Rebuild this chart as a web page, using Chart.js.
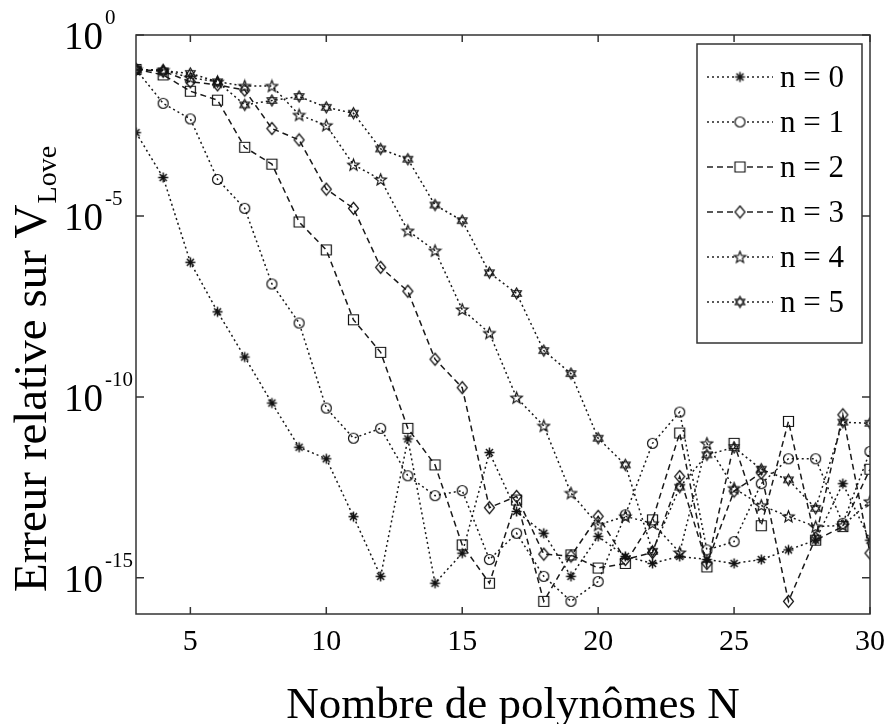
<!DOCTYPE html>
<html lang="fr">
<head>
<meta charset="UTF-8" />
<title>Erreur relative sur V_Love</title>
<script src="https://cdn.jsdelivr.net/npm/chart.js"></script>
<style>
  body { margin: 0; background: #fff; }
  #cadre { width: 887px; height: 724px; }
</style>
</head>
<body>
<div id="cadre"><canvas id="graphe" width="887" height="724"></canvas></div>
<script>
  // Nombre de polynômes N
  const nombrePolynomes = [3, 4, 5, 6, 7, 8, 9, 10, 11, 12, 13, 14, 15, 16, 17, 18, 19, 20, 21, 22, 23, 24, 25, 26, 27, 28, 29, 30];

  // erreur relative
  const erreurN0 = [2.0e-3, 1.15e-4, 5.25e-7, 2.24e-8, 1.26e-9, 6.76e-11, 4.07e-12, 1.95e-12, 4.9e-14, 1.1e-15,
    6.9e-12, 7.1e-16, 4.8e-15, 2.9e-12, 6.8e-14, 1.7e-14, 1.1e-15, 1.4e-14, 3.9e-15, 2.5e-15,
    3.9e-15, 3.2e-15, 2.5e-15, 3.2e-15, 5.9e-15, 1.1e-14, 4.0e-13, 1.1e-14];
  const erreurN1 = [1.12e-1, 1.29e-2, 4.8e-3, 1.02e-4, 1.62e-5, 1.32e-7, 1.1e-8, 4.9e-11, 7.2e-12, 1.35e-11,
    6.6e-13, 1.86e-13, 2.57e-13, 3.2e-15, 1.7e-14, 1.1e-15, 2.24e-16, 7.9e-16, 5.5e-14, 5.2e-12,
    3.8e-11, 5.9e-15, 1.0e-14, 4.0e-13, 1.95e-12, 1.95e-12, 3.2e-14, 3.1e-12];
  const erreurN2 = [1.12e-1, 7.9e-2, 2.8e-2, 1.58e-2, 7.9e-4, 2.7e-4, 6.8e-6, 1.15e-6, 1.35e-8, 1.7e-9,
    1.35e-11, 1.32e-12, 8.1e-15, 7.1e-16, 1.41e-13, 2.24e-16, 4.3e-15, 1.86e-15, 2.5e-15, 4.0e-14,
    1.0e-11, 2.0e-15, 5.2e-12, 2.75e-14, 2.1e-11, 1.1e-14, 2.6e-14, 1.0e-12];
  const erreurN3 = [1.12e-1, 1.0e-1, 5.1e-2, 4.2e-2, 3.0e-2, 2.6e-3, 1.26e-3, 5.5e-5, 1.62e-5, 3.8e-7,
    8.3e-8, 1.1e-9, 1.8e-10, 8.7e-14, 1.78e-13, 4.5e-15, 4.0e-15, 5.0e-14, 3.2e-15, 5.0e-15,
    6.3e-13, 2.5e-15, 2.5e-13, 7.9e-13, 2.24e-16, 1.26e-14, 3.2e-11, 4.8e-15];
  const erreurN4 = [1.12e-1, 1.07e-1, 6.6e-2, 5.1e-2, 3.9e-2, 3.9e-2, 6.2e-3, 3.2e-3, 2.6e-4, 1.02e-4,
    3.9e-6, 1.1e-6, 2.6e-8, 5.8e-9, 9.5e-11, 1.58e-11, 2.2e-13, 2.9e-14, 5.0e-14, 3.2e-14,
    5.0e-15, 5.2e-12, 3.0e-13, 1.0e-13, 5.0e-14, 2.6e-14, 2.8e-14, 1.29e-13];
  const erreurN5 = [1.12e-1, 1.02e-1, 8.7e-2, 5.1e-2, 1.17e-2, 1.55e-2, 2.0e-2, 1.0e-2, 6.9e-3, 7.1e-4,
    3.7e-4, 2.0e-5, 7.4e-6, 2.7e-7, 7.2e-8, 1.9e-9, 4.4e-10, 7.2e-12, 1.32e-12, 5.4e-15,
    3.2e-13, 2.5e-12, 4.0e-12, 1.0e-12, 5.1e-13, 8.3e-14, 2.0e-11, 1.86e-11];

  const etiquettesSeries = ['n = 0', 'n = 1', 'n = 2', 'n = 3', 'n = 4', 'n = 5'];
  const ticksX = [5, 10, 15, 20, 25, 30];
  const ticksY = [1, 1e-5, 1e-10, 1e-15];
  const exposantsY = ['0', '-5', '-10', '-15'];

  const police = "'Liberation Serif', 'Times New Roman', serif";
  const pointille = [2, 3];
  const tirets = [6, 4];

  function creerMarqueur(type) {
    const t = 15;
    const c = document.createElement('canvas');
    c.width = t; c.height = t;
    const ctx = c.getContext('2d');
    const m = t / 2;
    ctx.strokeStyle = '#111';
    ctx.lineWidth = 1.2;
    ctx.beginPath();
    if (type === 'asterisque') {
      ctx.lineWidth = 1.5;
      for (let i = 0; i < 4; i++) {
        const a = i * Math.PI / 4;
        ctx.moveTo(m + 5 * Math.cos(a), m + 5 * Math.sin(a));
        ctx.lineTo(m - 5 * Math.cos(a), m - 5 * Math.sin(a));
      }
    } else if (type === 'cercle') {
      ctx.arc(m, m, 5, 0, Math.PI * 2);
    } else if (type === 'carre') {
      ctx.rect(m - 5, m - 5, 10, 10);
    } else if (type === 'losange') {
      ctx.moveTo(m, m - 6); ctx.lineTo(m + 5, m); ctx.lineTo(m, m + 6); ctx.lineTo(m - 5, m); ctx.closePath();
    } else if (type === 'pentagramme') {
      for (let i = 0; i < 10; i++) {
        const r = i % 2 === 0 ? 6 : 2.6;
        const a = -Math.PI / 2 + i * Math.PI / 5;
        const px = m + r * Math.cos(a), py = m + 0.5 + r * Math.sin(a);
        if (i === 0) ctx.moveTo(px, py); else ctx.lineTo(px, py);
      }
      ctx.closePath();
    } else if (type === 'hexagramme') {
      for (let k = 0; k < 2; k++) {
        for (let i = 0; i < 3; i++) {
          const a = -Math.PI / 2 + k * Math.PI + i * 2 * Math.PI / 3;
          const px = m + 5.5 * Math.cos(a), py = m + 5.5 * Math.sin(a);
          if (i === 0) ctx.moveTo(px, py); else ctx.lineTo(px, py);
        }
        ctx.closePath();
      }
    }
    ctx.stroke();
    return c;
  }

  const styles = [
    { donnees: erreurN0, tirets: pointille, marqueur: creerMarqueur('asterisque') },
    { donnees: erreurN1, tirets: pointille, marqueur: creerMarqueur('cercle') },
    { donnees: erreurN2, tirets: tirets, marqueur: creerMarqueur('carre') },
    { donnees: erreurN3, tirets: tirets, marqueur: creerMarqueur('losange') },
    { donnees: erreurN4, tirets: pointille, marqueur: creerMarqueur('pentagramme') },
    { donnees: erreurN5, tirets: pointille, marqueur: creerMarqueur('hexagramme') }
  ];

  const datasets = styles.map((s, i) => ({
    label: etiquettesSeries[i],
    data: nombrePolynomes.map((n, k) => ({ x: n, y: s.donnees[k] })),
    borderColor: '#1a1a1a',
    borderWidth: 1.5,
    borderDash: s.tirets,
    pointStyle: s.marqueur,
    pointRadius: 6,
    backgroundColor: 'transparent',
    tension: 0,
    fill: false
  }));

  const decor = {
    id: 'decor',
    afterDraw(chart) {
      const { ctx, chartArea: a, scales: { x, y } } = chart;
      ctx.save();
      ctx.setLineDash([]);
      ctx.strokeStyle = '#333';
      ctx.lineWidth = 1.5;
      ctx.strokeRect(a.left, a.top, a.right - a.left, a.bottom - a.top);

      // graduations intérieures
      ctx.beginPath();
      ticksX.forEach(v => {
        const px = x.getPixelForValue(v);
        ctx.moveTo(px, a.bottom); ctx.lineTo(px, a.bottom - 7);
        ctx.moveTo(px, a.top); ctx.lineTo(px, a.top + 7);
      });
      ticksY.forEach(v => {
        const py = y.getPixelForValue(v);
        ctx.moveTo(a.left, py); ctx.lineTo(a.left + 8, py);
        ctx.moveTo(a.right, py); ctx.lineTo(a.right - 8, py);
      });
      ctx.stroke();

      // étiquettes 10^k
      ctx.fillStyle = '#000';
      ticksY.forEach((v, i) => {
        const py = y.getPixelForValue(v);
        ctx.font = '39px ' + police;
        ctx.textAlign = 'right';
        ctx.textBaseline = 'alphabetic';
        ctx.fillText('10', 103, py + 14);
        ctx.font = '21px ' + police;
        ctx.textAlign = 'left';
        ctx.fillText(exposantsY[i], 105, py - 11);
      });

      // titre horizontal
      ctx.font = '45px ' + police;
      ctx.textAlign = 'center';
      ctx.textBaseline = 'alphabetic';
      ctx.fillText('Nombre de polynômes N', 513, 718);

      // titre vertical
      ctx.save();
      ctx.translate(46, 592);
      ctx.rotate(-Math.PI / 2);
      ctx.textAlign = 'left';
      ctx.font = '47px ' + police;
      const principal = 'Erreur relative sur V';
      ctx.fillText(principal, 0, 0);
      const w = ctx.measureText(principal).width;
      ctx.font = '28px ' + police;
      ctx.fillText('Love', w + 1, 10);
      ctx.restore();

      // légende
      const lx = 697, ly = 44, lw = 165, lh = 299;
      ctx.fillStyle = '#fff';
      ctx.fillRect(lx, ly, lw, lh);
      ctx.strokeStyle = '#333';
      ctx.lineWidth = 1.5;
      ctx.strokeRect(lx, ly, lw, lh);
      styles.forEach((s, i) => {
        const ry = 77 + i * 45;
        ctx.setLineDash(s.tirets);
        ctx.strokeStyle = '#222';
        ctx.lineWidth = 1.3;
        ctx.beginPath();
        ctx.moveTo(707, ry); ctx.lineTo(773, ry);
        ctx.stroke();
        ctx.setLineDash([]);
        ctx.fillStyle = '#fff';
        ctx.fillRect(734, ry - 6, 12, 12);
        ctx.drawImage(s.marqueur, 740 - s.marqueur.width / 2, ry - s.marqueur.height / 2);
        ctx.fillStyle = '#000';
        ctx.font = '31px ' + police;
        ctx.textAlign = 'left';
        ctx.textBaseline = 'middle';
        ctx.fillText(etiquettesSeries[i], 780, ry + 2);
      });
      ctx.restore();
    }
  };

  new Chart(document.getElementById('graphe'), {
    type: 'line',
    data: { datasets: datasets },
    options: {
      responsive: false,
      animation: false,
      devicePixelRatio: 1,
      layout: { padding: { top: 35, right: 9, left: 0, bottom: 0 } },
      plugins: { legend: { display: false }, tooltip: { enabled: false } },
      scales: {
        x: {
          type: 'linear',
          min: 3,
          max: 30,
          afterBuildTicks: s => { s.ticks = ticksX.map(v => ({ value: v })); },
          afterFit: s => { s.height = 110; },
          grid: { display: false },
          border: { display: false },
          ticks: { color: '#000', padding: 2, font: { family: police, size: 30 } },
          title: { display: false }
        },
        y: {
          type: 'logarithmic',
          min: 1e-16,
          max: 1,
          afterFit: s => { s.width = 136; },
          grid: { display: false },
          border: { display: false },
          ticks: { display: false }
        }
      }
    },
    plugins: [decor]
  });
</script>
</body>
</html>
